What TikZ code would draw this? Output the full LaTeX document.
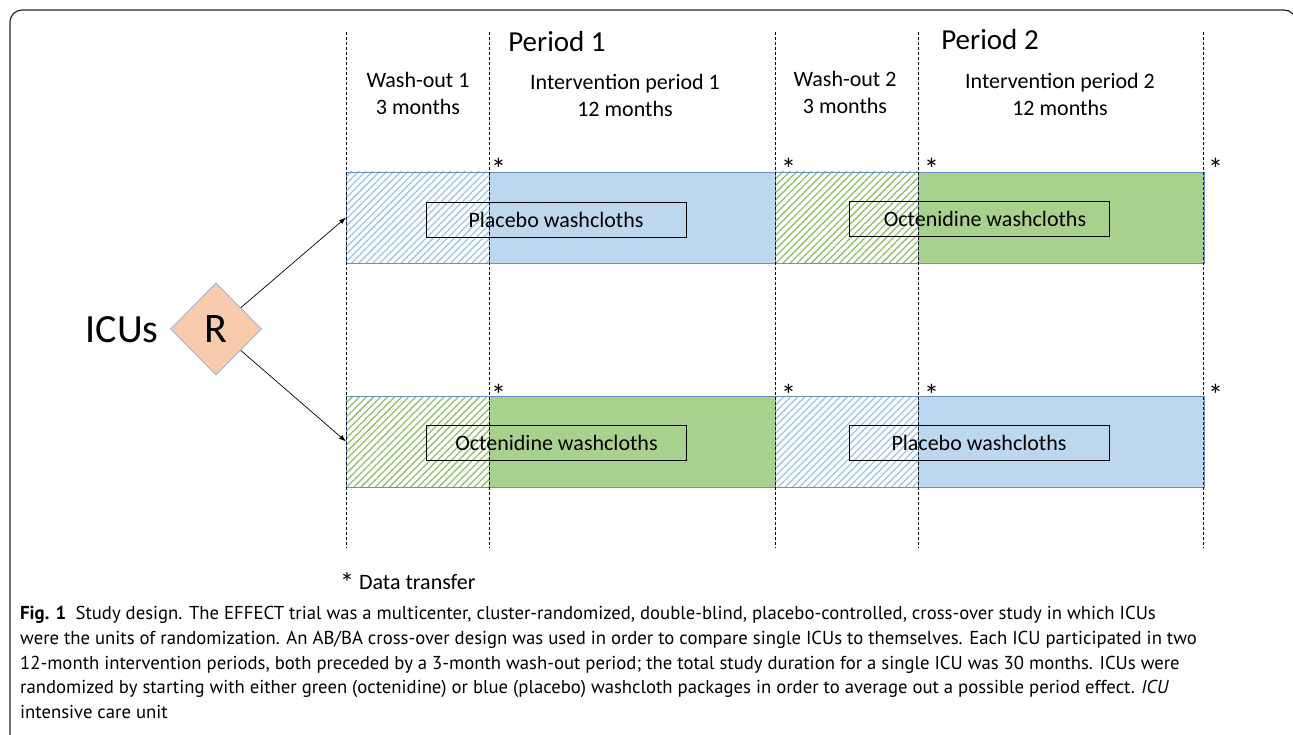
\documentclass[tikz,border=0pt]{standalone}
\usepackage{fontspec}
\setmainfont{Carlito}
\newfontfamily\capfont{PT Sans}
\usetikzlibrary{shapes.geometric,patterns.meta,arrows.meta}
\definecolor{placebo}{HTML}{BDD7EE}
\definecolor{placebohatch}{HTML}{9DC3E6}
\definecolor{octenidine}{HTML}{A9D18E}
\definecolor{octenidinehatch}{HTML}{8CC168}
\definecolor{barline}{HTML}{6A8FC4}
\definecolor{randfill}{HTML}{F8CBAD}
\definecolor{randline}{HTML}{8FAADC}
\begin{document}
\begin{tikzpicture}[x=1pt,y=-1pt] % 1pt = 1 pixel of the figure, y downwards
\tikzstyle{bar} = [draw=barline, line width=0.8pt, minimum height=91pt, inner sep=0pt, outer sep=0pt, anchor=north west] % one segment of a sequence
\tikzstyle{washout} = [bar, minimum width=143pt] % 3 months
\tikzstyle{interv} = [bar, minimum width=286pt] % 12 months
\tikzstyle{pla} = [fill=placebo]
\tikzstyle{oct} = [fill=octenidine]
\tikzstyle{plahatch} = [pattern={Lines[angle=45,distance=5pt,line width=1.3pt]}, pattern color=placebohatch]
\tikzstyle{octhatch} = [pattern={Lines[angle=45,distance=5pt,line width=1.3pt]}, pattern color=octenidinehatch]
\tikzstyle{product} = [draw, line width=0.7pt, minimum width=260pt, minimum height=35pt, inner sep=0pt, font=\fontsize{22}{26}\selectfont] % label box
\tikzstyle{phase} = [align=center, font=\fontsize{22}{27}\selectfont] % headings of the phases
\tikzstyle{period} = [font=\fontsize{29}{34}\selectfont]
\tikzstyle{transfer} = [anchor=base west, inner sep=0pt, font=\fontsize{30}{34}\selectfont] % asterisks
\tikzstyle{guide} = [line width=0.8pt, dash pattern=on 3pt off 2pt]

\clip (0,0) rectangle (1293,735);
\draw[line width=1.2pt, black!85, rounded corners=12pt] (10,760) -- (10,10) -- (1296,10) -- (1296,760);

% headings
\node[period] (P1) at (557,42) {Period 1};
\node[period] (P2) at (990,40) {Period 2};
\node[phase] (W1) at (418,93) {Wash-out 1\\3 months};
\node[phase] (I1) at (625,95) {Intervention period 1\\12 months};
\node[phase] (W2) at (845,92) {Wash-out 2\\3 months};
\node[phase] (I2) at (1060,94) {Intervention period 2\\12 months};

% sequence AB (top)
\node[washout, plahatch] (A1) at (346,172) {};
\node[interv, pla] (A2) at (A1.north east) {};
\node[washout, octhatch] (A3) at (A2.north east) {};
\node[interv, oct] (A4) at (A3.north east) {};
% sequence BA (bottom)
\node[washout, octhatch] (B1) at (346,396) {};
\node[interv, oct] (B2) at (B1.north east) {};
\node[washout, plahatch] (B3) at (B2.north east) {};
\node[interv, pla] (B4) at (B3.north east) {};

\node[product] (LA1) at (556,219.5) {Placebo washcloths};
\node[product] (LA2) at (979,218.5) {\hspace{12pt}Octenidine washcloths};
\node[product] (LB1) at (556.5,442.5) {Octenidine washcloths};
\node[product] (LB2) at (979,442.5) {Placebo washcloths};

% dashed guides
\foreach \x in {346,489,775,918,1203}
  \draw[guide] (\x,32) -- (\x,548);

% data transfer
\foreach \n/\x in {1/491,2/781,3/924,4/1208}{
  \node[transfer] (TA\n) at (\x,180) {*};
  \node[transfer] (TB\n) at (\x,405) {*};
}

% randomisation
\node[diamond, draw=randline, fill=randfill, line width=0.7pt, minimum width=91pt, minimum height=92pt, inner sep=0pt, font=\fontsize{42}{48}\selectfont] (R) at (216,329) {R};
\node[font=\fontsize{40}{46}\selectfont, anchor=east] (ICU) at (162,330) {ICUs};
\draw[-{Latex[length=7pt,width=5pt]}, line width=0.7pt] (R) -- (A1.west);
\draw[-{Latex[length=7pt,width=5pt]}, line width=0.7pt] (R) -- (B1.west);

\node[anchor=west, inner sep=0pt, font=\fontsize{22}{24}\selectfont] (legend) at (340,583) {{\fontsize{28}{24}\selectfont\raisebox{-3pt}{*}} Data transfer};

% caption
\node[anchor=north west, inner sep=0pt, align=left, font=\capfont\fontsize{18.7}{24.75}\selectfont] (caption) at (20,606)
{\textbf{Fig. 1}\enspace Study design. The EFFECT trial was a multicenter, cluster-randomized, double-blind, placebo-controlled, cross-over study in which ICUs\\
were the units of randomization. An AB/BA cross-over design was used in order to compare single ICUs to themselves. Each ICU participated in two\\
12-month intervention periods, both preceded by a 3-month wash-out period; the total study duration for a single ICU was 30 months. ICUs were\\
randomized by starting with either green (octenidine) or blue (placebo) washcloth packages in order to average out a possible period effect. \textit{ICU}\\
intensive care unit};
\end{tikzpicture}
\end{document}
